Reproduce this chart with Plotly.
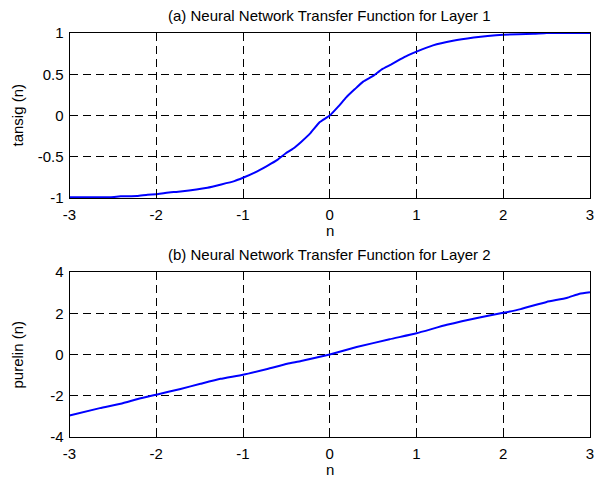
import plotly.graph_objects as go

# Layer 1: hyperbolic tangent sigmoid transfer function samples
n_tansig = [-3.0, -2.53, -2.41, -2.22, -2.1, -2.0, -1.88, -1.72, -1.41, -1.1, -1.0,
            -0.86, -0.72, -0.6, -0.51, -0.42, -0.33, -0.22, -0.115, 0.0, 0.1, 0.19,
            0.29, 0.385, 0.5, 0.6, 0.71, 0.81, 0.9, 1.0, 1.19, 1.42, 1.66, 1.82,
            2.0, 2.35, 2.5, 3.0]
a_tansig = [-0.99, -0.99, -0.98, -0.975, -0.96, -0.955, -0.935, -0.92, -0.875, -0.795, -0.755,
            -0.69, -0.61, -0.535, -0.46, -0.4, -0.32, -0.21, -0.08, 0.0, 0.11, 0.22,
            0.32, 0.41, 0.48, 0.56, 0.62, 0.68, 0.73, 0.775, 0.85, 0.905, 0.945, 0.965,
            0.98, 0.99, 1.0, 1.0]

# Layer 2: linear transfer function samples
n_purelin = [-3.0, -2.65, -2.41, -2.18, -2.0, -1.72, -1.49, -1.26, -1.0, -0.72, -0.49,
             -0.33, 0.0, 0.31, 0.69, 1.0, 1.35, 1.74, 2.0, 2.2, 2.5, 2.73, 2.88, 3.0]
a_purelin = [-2.96, -2.6, -2.39, -2.12, -1.95, -1.67, -1.42, -1.18, -0.98, -0.7, -0.45,
             -0.32, 0.0, 0.36, 0.74, 1.03, 1.44, 1.81, 2.02, 2.2, 2.55, 2.74, 2.95, 3.02]

x_ticks = [-3, -2, -1, 0, 1, 2, 3]
y1_ticks = [-1, -0.5, 0, 0.5, 1]
y2_ticks = [-4, -2, 0, 2, 4]

titles = ["(a) Neural Network Transfer Function for Layer 1",
          "(b) Neural Network Transfer Function for Layer 2"]
y_labels = ["tansig (n)", "purelin (n)"]
x_label = "n"

FONT = "Liberation Sans, Arial, sans-serif"
FS = 15
W, H = 600, 478


def labels(vals):
    return [f"{v:g}" for v in vals]


fig = go.Figure()
fig.add_trace(go.Scatter(x=n_tansig, y=a_tansig, mode="lines",
                         line=dict(color="#0000ff", width=2, shape="spline", smoothing=0.4),
                         xaxis="x", yaxis="y", showlegend=False))
fig.add_trace(go.Scatter(x=n_purelin, y=a_purelin, mode="lines",
                         line=dict(color="#0000ff", width=2, shape="spline", smoothing=0.4),
                         xaxis="x2", yaxis="y2", showlegend=False))

xdom = [69.5 / W, 590 / W]
ydom1 = [(H - 198) / H, (H - 33) / H]
ydom2 = [(H - 437) / H, (H - 272) / H]

common = dict(showline=True, linecolor="black", linewidth=1, mirror="ticks",
              ticks="inside", ticklen=5, tickcolor="black", tickwidth=1,
              showgrid=True, gridcolor="black", gridwidth=1, griddash="8px,5px",
              zeroline=False, automargin=False,
              tickfont=dict(family=FONT, size=FS, color="black"))

fig.update_layout(
    width=W, height=H,
    margin=dict(l=0, r=0, t=0, b=0, autoexpand=False),
    paper_bgcolor="white", plot_bgcolor="white",
    xaxis=dict(domain=xdom, range=[-3, 3], tickvals=x_ticks, ticktext=labels(x_ticks),
               anchor="y", ticklabelstandoff=3, **common),
    yaxis=dict(domain=ydom1, range=[-1, 1], tickvals=y1_ticks, ticktext=labels(y1_ticks),
               anchor="x", ticklabelstandoff=2, **common),
    xaxis2=dict(domain=xdom, range=[-3, 3], tickvals=x_ticks, ticktext=labels(x_ticks),
                anchor="y2", ticklabelstandoff=3, **common),
    yaxis2=dict(domain=ydom2, range=[-4, 4], tickvals=y2_ticks, ticktext=labels(y2_ticks),
                anchor="x2", ticklabelstandoff=2, **common),
)

cx = (69.5 + 590) / 2 / W
ann = []
for title, ty in zip(titles, [15, 254]):
    ann.append(dict(text=title, x=cx, y=1 - ty / H, xref="paper", yref="paper",
                    showarrow=False, xanchor="center", yanchor="middle",
                    font=dict(family=FONT, size=FS, color="black")))
for ly in [231, 469]:
    ann.append(dict(text=x_label, x=cx, y=1 - ly / H, xref="paper", yref="paper",
                    showarrow=False, xanchor="center", yanchor="middle",
                    font=dict(family=FONT, size=FS, color="black")))
for lab, cy in zip(y_labels, [115.5, 354.5]):
    ann.append(dict(text=lab, x=17 / W, y=1 - cy / H, xref="paper", yref="paper",
                    showarrow=False, xanchor="center", yanchor="middle", textangle=-90,
                    font=dict(family=FONT, size=FS, color="black")))
fig.update_layout(annotations=ann)

fig.write_html("out.html")
